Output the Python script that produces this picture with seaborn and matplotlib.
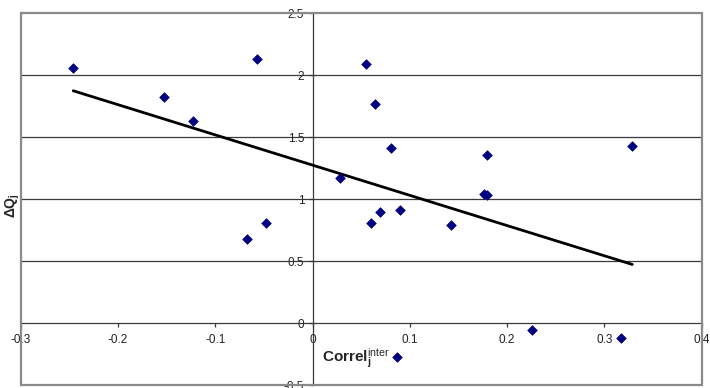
import numpy as np
import pandas as pd
import matplotlib
matplotlib.use("Agg")
import matplotlib.pyplot as plt
from matplotlib.patches import Rectangle
import seaborn as sns

# ---- data ----
correl = [-0.246, -0.0567, -0.153, -0.123, 0.0278, 0.0552, 0.064, 0.0805, 0.179, 0.3286,
          0.176, 0.179, -0.0677, -0.0475, 0.060, 0.0696, 0.0894, 0.1428, 0.2257, 0.317, 0.0863]
delta_q = [2.056, 2.134, 1.828, 1.629, 1.172, 2.089, 1.769, 1.414, 1.355, 1.430,
           1.040, 1.035, 0.680, 0.806, 0.806, 0.895, 0.914, 0.788, -0.059, -0.121, -0.277]
x_ticks = [-0.3, -0.2, -0.1, 0, 0.1, 0.2, 0.3, 0.4]
x_tick_labels = ["-0.3", "-0.2", "-0.1", "0", "0.1", "0.2", "0.3", "0.4"]
y_ticks = [-0.5, 0, 0.5, 1, 1.5, 2, 2.5]
y_tick_labels = ["-0.5", "0", "0.5", "1", "1.5", "2", "2.5"]

df = pd.DataFrame({"correl": correl, "dq": delta_q})

sns.set_style("white")
plt.rcParams["font.family"] = ["Liberation Sans", "DejaVu Sans"]
plt.rcParams["mathtext.fontset"] = "custom"
plt.rcParams["mathtext.rm"] = "Liberation Sans"
plt.rcParams["mathtext.bf"] = "Liberation Sans:bold"
plt.rcParams["mathtext.it"] = "Liberation Sans:italic"

fig = plt.figure(figsize=(7.1, 3.88), dpi=100)
W, H = 710, 388
L, R, T, B = 20.7, 701.7, 13.3, 385.0
ax = fig.add_axes([L / W, 1 - B / H, (R - L) / W, (B - T) / H])

ax.set_xlim(-0.3, 0.4)
ax.set_ylim(-0.5, 2.5)

# horizontal gridlines
for yv in [0.5, 1, 1.5, 2]:
    ax.axhline(yv, color="#3a3a3a", lw=0.9, zorder=1)

# trend line
sns.regplot(data=df, x="correl", y="dq", ax=ax, ci=None, scatter=False, truncate=True,
            line_kws=dict(color="black", lw=2.0, zorder=3))

# points
sns.scatterplot(data=df, x="correl", y="dq", ax=ax, marker="D", s=24,
                color="#000080", edgecolor="#000080", linewidth=0.5, zorder=4)

# axes through origin
for s in ["top", "right"]:
    ax.spines[s].set_visible(False)
ax.spines["left"].set_position(("data", 0))
ax.spines["bottom"].set_position(("data", 0))
for s in ["left", "bottom"]:
    ax.spines[s].set_color("#3a3a3a")
    ax.spines[s].set_linewidth(0.9)

ax.add_patch(Rectangle((0, 0), 1, 1, transform=ax.transAxes, fill=False,
                       ec="#8a8a8a", lw=1.6, clip_on=False, zorder=5))

ax.set_xticks(x_ticks)
ax.set_xticklabels(x_tick_labels)
ax.set_yticks(y_ticks)
ax.set_yticklabels(y_tick_labels)
ax.tick_params(axis="both", direction="out", length=3, width=0.9, color="#3a3a3a",
               labelsize=8.5, labelcolor="#222222")
ax.tick_params(axis="x", pad=5, bottom=True)
ax.tick_params(axis="y", pad=3, left=True)
ax.set_xlabel("")
ax.set_ylabel("")

fig.text(322 / W, 1 - 361.5 / H, r"$\mathbf{Correl}_{\mathbf{j}}^{\mathrm{inter}}$",
         ha="left", va="baseline", fontsize=11)
fig.text(13 / W, 1 - 206 / H, r"$\mathbf{\Delta Q}_{\mathbf{j}}$",
         ha="center", va="center", rotation=90, fontsize=10)

fig.savefig("out.png", dpi=100)
